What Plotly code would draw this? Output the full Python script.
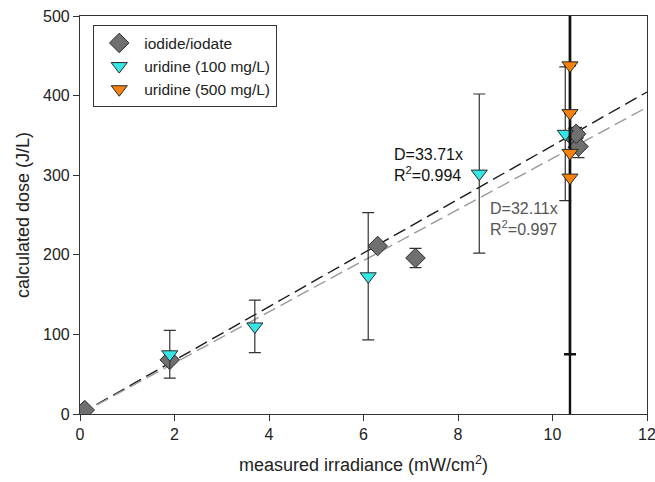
import plotly.graph_objects as go

# Iodide/iodate actinometry
iod_x = [0.1, 1.9, 6.3, 7.1, 10.45, 10.55, 10.5]
iod_y = [5, 68, 211, 196, 347, 336, 352]
iod_err = [0, 0, 0, 12, 12, 14, 8]

# Uridine 100 mg/L
u100_x = [1.9, 3.7, 6.1, 8.45, 10.27]
u100_y = [75, 110, 173, 302, 352]
u100_err = [30, 33, 80, 100, 84]

# Uridine 500 mg/L
u500_x = [10.37, 10.37, 10.37, 10.37]
u500_y = [438, 378, 328, 297]
u500_err = [0, 0, 400, 222]

# Linear fits through the origin
fit_x = [0, 12]
slope_a = 33.71
slope_b = 32.11

FONT = "Liberation Sans, Arial, sans-serif"
EDGE = "#2a2a2a"

fig = go.Figure()

fig.add_trace(go.Scatter(
    x=fit_x, y=[slope_a * v for v in fit_x], mode="lines",
    line=dict(color="#1a1a1a", width=1.4, dash="13px,6px"),
    showlegend=False, hoverinfo="skip"))
fig.add_trace(go.Scatter(
    x=fit_x, y=[slope_b * v for v in fit_x], mode="lines",
    line=dict(color="#999999", width=1.4, dash="13px,6px"),
    showlegend=False, hoverinfo="skip"))

fig.add_trace(go.Scatter(
    x=iod_x, y=iod_y, mode="markers", name="iodide/iodate",
    marker=dict(symbol="diamond", size=15, color="#6f6f6f",
                line=dict(color=EDGE, width=1)),
    error_y=dict(type="data", array=iod_err, visible=True,
                 color="#333333", thickness=1.2, width=6)))
fig.add_trace(go.Scatter(
    x=u100_x, y=u100_y, mode="markers", name="uridine (100 mg/L)",
    marker=dict(symbol="triangle-down", size=14, color="#35e6e6",
                line=dict(color=EDGE, width=1)),
    error_y=dict(type="data", array=u100_err, visible=True,
                 color="#333333", thickness=1.2, width=6)))
fig.add_trace(go.Scatter(
    x=u500_x, y=u500_y, mode="markers", name="uridine (500 mg/L)",
    marker=dict(symbol="triangle-down", size=14, color="#f5820f",
                line=dict(color=EDGE, width=1)),
    error_y=dict(type="data", array=u500_err, visible=True,
                 color="#111111", thickness=2.4, width=6)))

fig.add_annotation(x=6.6, y=313, xref="x", yref="y", showarrow=False,
                   xanchor="left", yanchor="middle", align="left",
                   text="D=33.71x<br>R<sup>2</sup>=0.994",
                   font=dict(family=FONT, size=16, color="#111111"))
fig.add_annotation(x=8.63, y=245, xref="x", yref="y", showarrow=False,
                   xanchor="left", yanchor="middle", align="left",
                   text="D=32.11x<br>R<sup>2</sup>=0.997",
                   font=dict(family=FONT, size=16, color="#555555"))

axis_common = dict(
    showgrid=False, zeroline=False, showline=True, linecolor="#333333",
    linewidth=1.2, mirror=True, ticks="outside", ticklen=6,
    tickcolor="#333333", tickwidth=1.2, automargin=False,
    ticklabeloverflow="allow",
    tickfont=dict(family=FONT, size=16, color="#222222"))

fig.update_xaxes(range=[0, 12], tick0=0, dtick=2, **axis_common,
                 title=dict(text="measured irradiance (mW/cm<sup>2</sup>)",
                            font=dict(family=FONT, size=18, color="#222222"),
                            standoff=16))
fig.update_yaxes(range=[0, 500], tick0=0, dtick=100, **axis_common,
                 title=dict(text="calculated dose (J/L)",
                            font=dict(family=FONT, size=18, color="#222222"),
                            standoff=8))

fig.update_layout(
    width=655, height=482,
    margin=dict(l=80, r=8, t=16, b=68),
    paper_bgcolor="white", plot_bgcolor="white",
    font=dict(family=FONT, size=15, color="#222222"),
    legend=dict(x=0.023, y=0.977, xanchor="left", yanchor="top",
                bgcolor="white", bordercolor="#333333", borderwidth=1.2,
                font=dict(family=FONT, size=15.5, color="#222222"),
                itemwidth=40),
)

fig.write_html("out.html")
